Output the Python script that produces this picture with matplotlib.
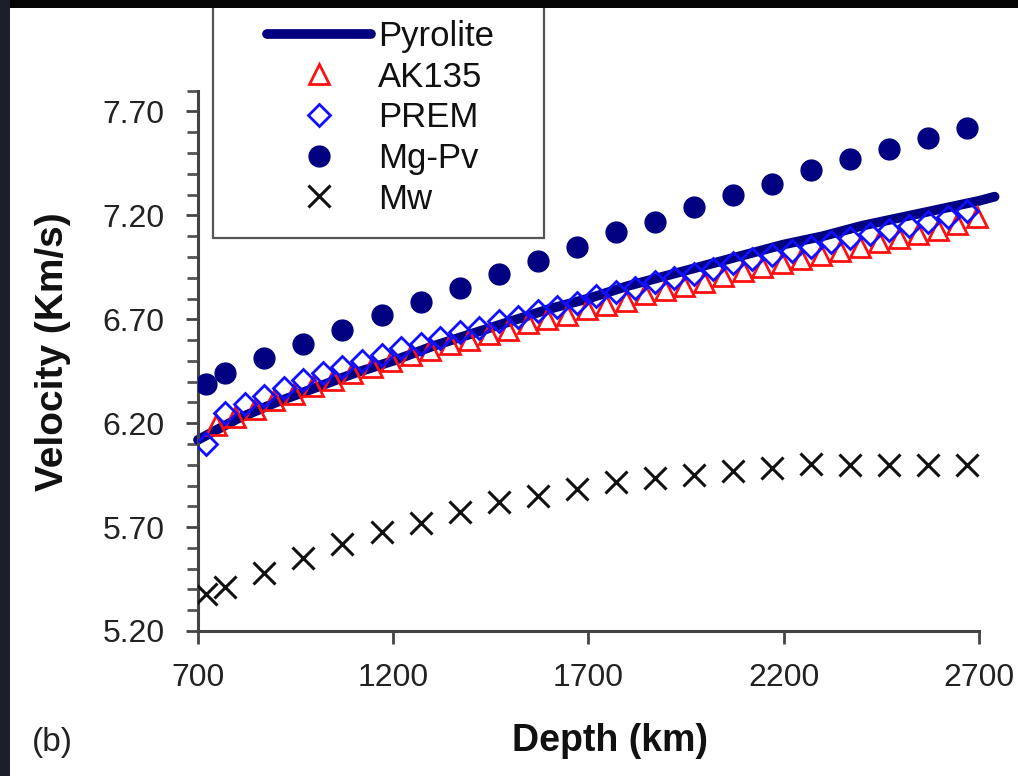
import matplotlib
matplotlib.use("Agg")
import matplotlib.pyplot as plt
from matplotlib.lines import Line2D
from matplotlib.patches import Rectangle
from matplotlib.ticker import MultipleLocator

plt.rcParams['font.family'] = ['Liberation Sans', 'DejaVu Sans']

# ---------------- data ----------------
pyrolite_depth = [700, 800, 900, 1000, 1100, 1200, 1300, 1400, 1500, 1600, 1700,
                  1800, 1900, 2000, 2100, 2200, 2300, 2400, 2500, 2600, 2700, 2740]
pyrolite_vs = [6.12, 6.22, 6.30, 6.37, 6.44, 6.50, 6.57, 6.63, 6.69, 6.75, 6.80,
               6.86, 6.91, 6.96, 7.01, 7.06, 7.10, 7.15, 7.19, 7.23, 7.27, 7.29]

prem_depth = [720, 770, 820, 870, 920, 970, 1020, 1070, 1120, 1170, 1220, 1270,
              1320, 1370, 1420, 1470, 1520, 1570, 1620, 1670, 1720, 1770, 1820,
              1870, 1920, 1970, 2020, 2070, 2120, 2170, 2220, 2270, 2320, 2370,
              2420, 2470, 2520, 2570, 2620, 2670]
prem_vs = [6.10, 6.25, 6.29, 6.33, 6.37, 6.41, 6.44, 6.47, 6.50, 6.53, 6.56, 6.58,
           6.61, 6.64, 6.66, 6.69, 6.71, 6.74, 6.76, 6.78, 6.81, 6.83, 6.85,
           6.88, 6.90, 6.92, 6.94, 6.97, 6.99, 7.01, 7.03, 7.05, 7.07, 7.09,
           7.11, 7.13, 7.15, 7.17, 7.19, 7.22]

ak135_depth = [745, 795, 845, 895, 945, 995, 1045, 1095, 1145, 1195, 1245, 1295,
               1345, 1395, 1445, 1495, 1545, 1595, 1645, 1695, 1745, 1795, 1845,
               1895, 1945, 1995, 2045, 2095, 2145, 2195, 2245, 2295, 2345, 2395,
               2445, 2495, 2545, 2595, 2645, 2695]
ak135_vs = [6.19, 6.23, 6.27, 6.31, 6.34, 6.38, 6.41, 6.44, 6.47, 6.50, 6.53, 6.55,
            6.58, 6.60, 6.63, 6.65, 6.68, 6.70, 6.72, 6.75, 6.77, 6.79, 6.82,
            6.84, 6.86, 6.88, 6.91, 6.93, 6.95, 6.97, 6.99, 7.01, 7.03, 7.05,
            7.07, 7.09, 7.11, 7.13, 7.16, 7.19]

pv_depth = [720, 770, 870, 970, 1070, 1170, 1270, 1370, 1470, 1570, 1670,
            1770, 1870, 1970, 2070, 2170, 2270, 2370, 2470, 2570, 2670]
mgpv_vs = [6.39, 6.44, 6.515, 6.58, 6.65, 6.72, 6.785, 6.85, 6.92, 6.98, 7.05,
           7.12, 7.17, 7.24, 7.30, 7.35, 7.42, 7.47, 7.52, 7.57, 7.62]
mw_vs = [5.38, 5.41, 5.48, 5.55, 5.62, 5.675, 5.72, 5.775, 5.82, 5.85, 5.885,
         5.915, 5.935, 5.95, 5.97, 5.985, 6.005, 6.00, 6.00, 6.00, 6.00]

x_ticks = [700, 1200, 1700, 2200, 2700]
y_ticks = [5.20, 5.70, 6.20, 6.70, 7.20, 7.70]

# ---------------- figure ----------------
W, H = 1018, 776
fig = plt.figure(figsize=(W / 100, H / 100), dpi=100, facecolor='white')

def fx(px):
    return px / W

def fy(py):
    return 1 - py / H

ax_left, ax_right = 198, 998.5
ax_top, ax_bot = 90.7, 631
ax = fig.add_axes([fx(ax_left), fy(ax_bot), fx(ax_right - ax_left), (ax_bot - ax_top) / H])
ax.set_xlim(700, 2750)
ax.set_ylim(5.2, 7.8)

navy = '#000080'
red = '#ff1010'
blue = '#1010ff'
tri_kw = dict(ls='none', marker='^', ms=14, mfc='none', mec=red, mew=2.0)
dia_kw = dict(ls='none', marker='D', ms=11, mfc='none', mec=blue, mew=2.0)
pv_kw = dict(ls='none', marker='o', ms=15, mfc=navy, mec=navy)
mw_kw = dict(ls='none', marker='x', ms=16, mec='#111111', mew=2.2)

line_pyr, = ax.plot(pyrolite_depth, pyrolite_vs, color=navy, lw=7, solid_capstyle='round',
                    zorder=2, label='Pyrolite', clip_on=False)
ax.plot(ak135_depth, ak135_vs, zorder=3, **tri_kw)
ax.plot(prem_depth, prem_vs, zorder=4, **dia_kw)
ax.plot(pv_depth, mgpv_vs, zorder=5, **pv_kw)
ax.plot(pv_depth, mw_vs, zorder=5, **mw_kw)

# spines / ticks
for s in ['top', 'right']:
    ax.spines[s].set_visible(False)
for s in ['left', 'bottom']:
    ax.spines[s].set_color('#444444')
    ax.spines[s].set_linewidth(2.2)
ax.spines['bottom'].set_bounds(700, 2700)
ax.spines['left'].set_bounds(5.2, 7.8)

ax.set_xticks(x_ticks)
ax.set_xticklabels([str(v) for v in x_ticks])
ax.set_yticks(y_ticks)
ax.set_yticklabels(['%.2f' % v for v in y_ticks])
ax.yaxis.set_minor_locator(MultipleLocator(0.1))
ax.tick_params(axis='both', which='major', direction='out', length=9, width=2,
               color='#444444', labelsize=23, labelcolor='#222222')
ax.tick_params(axis='y', which='minor', direction='out', length=8, width=2, color='#555555')
ax.tick_params(axis='x', which='major', pad=14)
ax.tick_params(axis='y', which='major', pad=15)

fig.text(fx(53), fy(352), 'Velocity (Km/s)', rotation=90, ha='center', va='center',
         fontsize=28, fontweight='bold', color='#111111')
fig.text(fx(610), fy(741), 'Depth (km)', ha='center', va='center',
         fontsize=27, fontweight='bold', color='#111111')
fig.text(fx(52), fy(742), '(b)', ha='center', va='center', fontsize=24, color='#222222')

# legend
handles = [
    line_pyr,
    Line2D([], [], **tri_kw),
    Line2D([], [], **dia_kw),
    Line2D([], [], **pv_kw),
    Line2D([], [], **mw_kw),
]
labels = ['Pyrolite', 'AK135', 'PREM', 'Mg-Pv', 'Mw']
leg = fig.legend(handles, labels, loc='upper left', bbox_to_anchor=(fx(267), fy(20)),
                 frameon=False, fontsize=25, handlelength=3.0, handletextpad=0.2,
                 labelspacing=0.22, borderpad=0.0, borderaxespad=0.0)
for t in leg.get_texts():
    t.set_color('#111111')

fig.patches.append(Rectangle((fx(213), fy(238)), fx(544 - 213), (238 - 2) / H,
                             transform=fig.transFigure, facecolor='none',
                             edgecolor='#555555', lw=1.6, zorder=6))

# dark photo frame (top and left)
fig.patches.append(Rectangle((0, fy(8)), 1, 8 / H, transform=fig.transFigure,
                             facecolor='#050505', edgecolor='none', zorder=10))
fig.patches.append(Rectangle((0, 0), fx(10), 1, transform=fig.transFigure,
                             facecolor='#1c1f2b', edgecolor='none', zorder=10))

fig.savefig('out.png', dpi=100, facecolor='white')
